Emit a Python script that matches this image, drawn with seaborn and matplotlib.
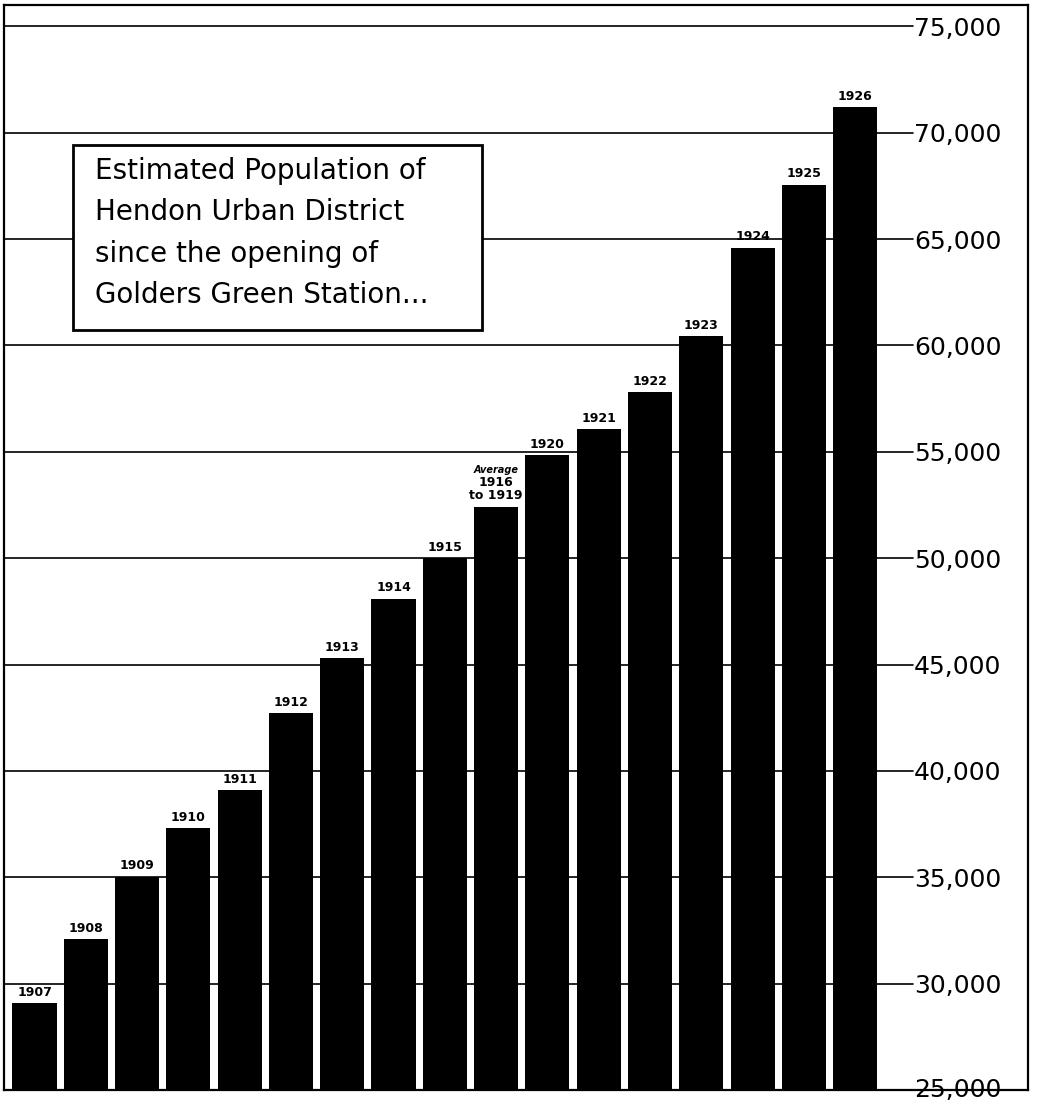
import matplotlib
matplotlib.use("Agg")
import matplotlib.pyplot as plt
from matplotlib.patches import Rectangle
import seaborn as sns
import pandas as pd

# ---- data ----
categories = ["1907", "1908", "1909", "1910", "1911", "1912", "1913", "1914", "1915",
              "1916-1919", "1920", "1921", "1922", "1923", "1924", "1925", "1926"]
bar_labels = ["1907", "1908", "1909", "1910", "1911", "1912", "1913", "1914", "1915",
              "1916\nto 1919", "1920", "1921", "1922", "1923", "1924", "1925", "1926"]
population = [29070, 32100, 35030, 37300, 39100, 42700, 45300, 48100, 50000,
              52420, 54850, 56070, 57790, 60420, 64600, 67560, 71190]
y_ticks = [25000, 30000, 35000, 40000, 45000, 50000, 55000, 60000, 65000, 70000, 75000]
y_tick_labels = ["25,000", "30,000", "35,000", "40,000", "45,000", "50,000",
                 "55,000", "60,000", "65,000", "70,000", "75,000"]
title_lines = ["Estimated Population of", "Hendon Urban District",
               "since the opening of", "Golders Green Station..."]
avg_note = "Average"

df = pd.DataFrame({"period": categories, "population": population})

sns.set_theme(style="white")
plt.rcParams["font.family"] = ["DejaVu Sans"]
plt.rcParams["text.color"] = "black"

W, H = 1038, 1104
AX_TOP, AX_BOT = 5, 1090
fig = plt.figure(figsize=(W / 100, H / 100), dpi=100)
fig.patch.set_facecolor("white")
ax = fig.add_axes([4 / W, (H - AX_BOT) / H, 1024 / W, (AX_BOT - AX_TOP) / H])
ax.set_facecolor("white")

# gridlines (stop short of the labels)
for t in y_ticks[1:]:
    ax.axhline(t, xmin=0, xmax=0.888, color="black", lw=1.2, zorder=1)

sns.barplot(data=df, x="period", y="population", color="black", saturation=1,
            width=0.86, ax=ax, zorder=2, linewidth=0, edgecolor="black")

ax.set_ylim(25000, 76000)
ax.set_xlim(-0.595, 19.37)

cont = ax.containers[0]
ax.bar_label(cont, labels=bar_labels, padding=3, fontsize=9, fontweight="bold",
             linespacing=1.0, color="black")
avg_idx = categories.index("1916-1919")
ax.annotate(avg_note, xy=(avg_idx, population[avg_idx]), xytext=(0, 23),
            textcoords="offset points", ha="center", va="bottom",
            fontsize=7, fontweight="bold", fontstyle="italic", color="black")

# axis ticks inside on the right
ax.set_yticks(y_ticks)
ax.set_yticklabels(y_tick_labels)
ax.yaxis.tick_right()
ax.tick_params(axis="y", length=0, pad=-82, labelsize=18, labelcolor="black")
for i, lbl in enumerate(ax.get_yticklabels()):
    lbl.set_horizontalalignment("left")
    lbl.set_verticalalignment("center" if i == 0 else "center_baseline")
    lbl.set_bbox(dict(facecolor="white", edgecolor="none", pad=0.0))
ax.set_xticks([])
ax.set_xlabel("")
ax.set_ylabel("")

for side in ["left", "right", "top", "bottom"]:
    ax.spines[side].set_visible(True)
    ax.spines[side].set_color("black")
    ax.spines[side].set_linewidth(1.6)

# title box
hgt = AX_BOT - AX_TOP
ax.add_patch(Rectangle((0.0674, (AX_BOT - 330) / hgt), 0.3994, 185 / hgt,
                       transform=ax.transAxes, facecolor="white",
                       edgecolor="black", linewidth=2, zorder=5))
ax.text(0.0889, (AX_BOT - 233) / hgt, "\n".join(title_lines), transform=ax.transAxes,
        ha="left", va="center", multialignment="left", fontsize=20,
        linespacing=1.62, zorder=6, color="black")

fig.savefig("out.png", dpi=100, facecolor="white")
